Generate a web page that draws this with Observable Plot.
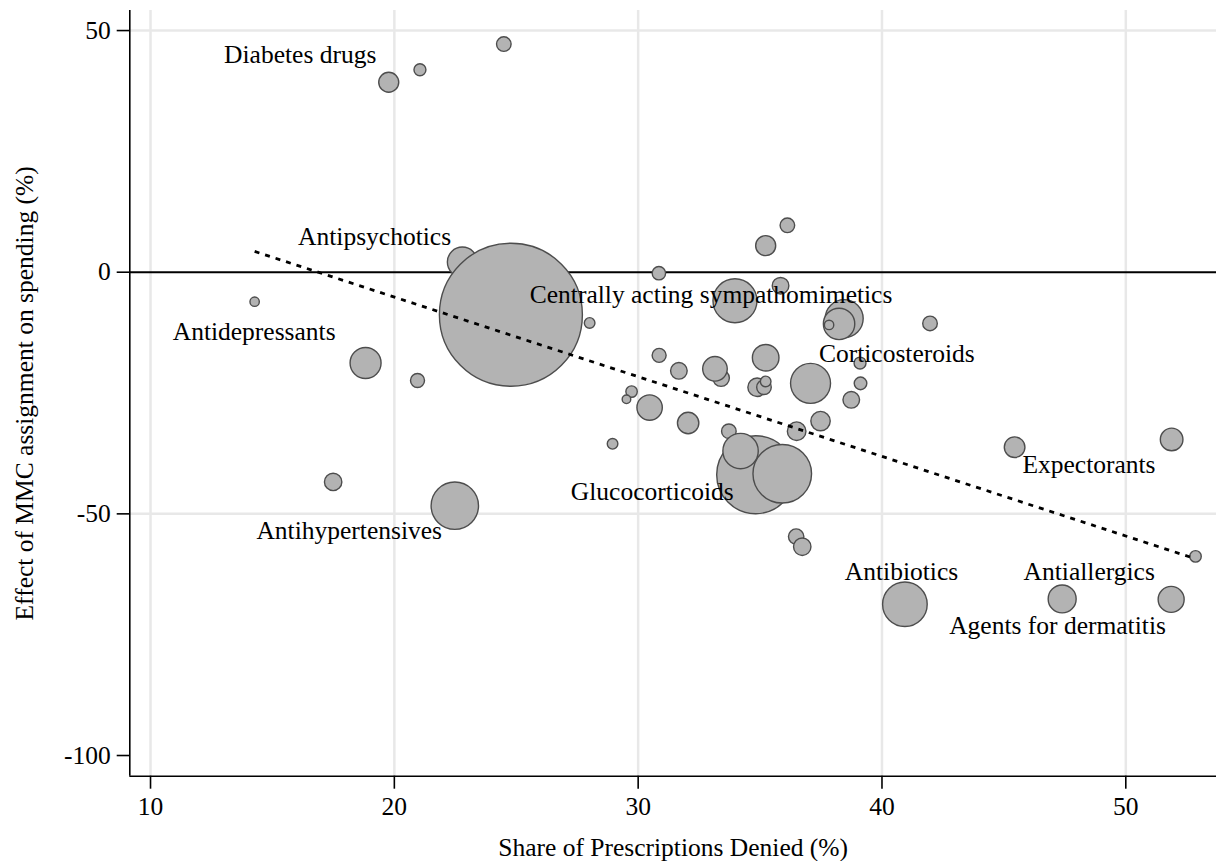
<!DOCTYPE html>
<html>
<head>
<meta charset="utf-8">
<script src="https://cdn.jsdelivr.net/npm/d3@7"></script>
<script src="https://cdn.jsdelivr.net/npm/@observablehq/plot@0.6"></script>
<style>
  html, body { margin: 0; padding: 0; background: #ffffff; }
  #chart svg { display: block; }
</style>
</head>
<body>
<div id="chart"></div>
<script>
// Share of prescriptions denied (%) per drug class
const shareDenied = [19.77, 21.05, 24.49, 36.12, 35.23, 30.85, 22.79, 24.78, 35.84, 33.97,
  14.27, 18.82, 20.95, 17.49, 22.48, 28.01, 30.86, 31.67, 33.40, 33.15,
  35.23, 34.88, 35.16, 35.23, 37.07, 29.73, 29.52, 30.47, 32.05, 28.95,
  33.72, 36.50, 37.48, 34.82, 34.20, 35.91, 36.48, 36.73, 38.45, 38.24,
  37.83, 41.97, 39.10, 39.12, 38.74, 45.44, 51.88, 52.86, 40.94, 47.39, 51.86];
// Effect of MMC assignment on spending (%)
const effect = [39.3, 41.9, 47.2, 9.7, 5.5, -0.2, 2.1, -8.8, -2.8, -5.9,
  -6.1, -18.8, -22.4, -43.4, -48.3, -10.5, -17.2, -20.4, -21.9, -20.0,
  -17.7, -23.8, -23.8, -22.6, -23.0, -24.7, -26.3, -28.0, -31.2, -35.5,
  -32.9, -32.9, -30.8, -41.9, -37.0, -41.7, -54.7, -56.8, -9.6, -10.7,
  -10.9, -10.6, -18.8, -23.0, -26.4, -36.2, -34.6, -58.8, -68.7, -67.6, -67.7];
// Bubble weight (relative spending weight)
const weight = [19.6, 7.0, 10.4, 10.4, 19.6, 8.8, 44.0, 1000, 13.5, 94.7,
  4.3, 47.0, 9.6, 14.8, 109.9, 5.5, 9.6, 13.5, 13.5, 29.6,
  34.6, 16.9, 10.4, 5.5, 78.2, 6.4, 3.6, 31.5, 22.4, 5.5,
  10.4, 16.9, 18.4, 297.5, 61.3, 167.9, 11.6, 14.8, 70.6, 48.2,
  4.3, 10.4, 7.0, 7.8, 13.5, 20.8, 25.0, 6.4, 97.3, 38.3, 33.1];

// Fitted line endpoints
const fitX = [14.27, 52.86];
const fitY = [4.3, -59.3];

// Labels
const labelText = ["Diabetes drugs", "Antipsychotics", "Antidepressants",
  "Centrally acting sympathomimetics", "Corticosteroids", "Glucocorticoids",
  "Antihypertensives", "Expectorants", "Antibiotics", "Antiallergics", "Agents for dermatitis"];
const labelX = [16.14, 19.19, 14.25, 32.99, 40.61, 30.58, 18.15, 48.49, 40.80, 48.50, 47.20];
const labelY = [44.96, 7.24, -12.27, -4.70, -16.90, -45.52, -53.45, -39.87, -61.90, -61.90, -73.10];

// Axes
const xTicks = [10, 20, 30, 40, 50];
const yTicks = [50, 0, -50, -100];
const yGrid = [50, -50];
const xDomain = [9.15, 53.72];
const yDomain = [-104.28, 54.15];
const xTitle = "Share of Prescriptions Denied (%)";
const yTitle = "Effect of MMC assignment on spending (%)";

const pts = shareDenied.map((x, i) => ({x, y: effect[i], w: weight[i]}));
const fit = fitX.map((x, i) => ({x, y: fitY[i]}));
const labels = labelText.map((t, i) => ({t, x: labelX[i], y: labelY[i]}));

const font = "'Liberation Serif', 'Times New Roman', Times, serif";
const fs = 25.5;

const chart = Plot.plot({
  width: 1219,
  height: 861,
  marginLeft: 129.3,
  marginRight: 3,
  marginTop: 10,
  marginBottom: 85.3,
  style: {fontFamily: font, fontSize: fs + "px", background: "#ffffff", color: "#000000", overflow: "visible"},
  x: {domain: xDomain},
  y: {domain: yDomain},
  r: {type: "sqrt", domain: [0, 1000], range: [0, 71.5]},
  marks: [
    Plot.gridX(xTicks, {stroke: "#e8e8e8", strokeOpacity: 1, strokeWidth: 2.5}),
    Plot.gridY(yGrid, {stroke: "#e8e8e8", strokeOpacity: 1, strokeWidth: 2.5}),
    Plot.ruleY([0], {stroke: "#000000", strokeWidth: 2}),
    Plot.dot(pts, {x: "x", y: "y", r: "w", fill: "#b3b3b3", fillOpacity: 1, stroke: "#4d4d4d", strokeWidth: 1.4, sort: null}),
    Plot.line(fit, {x: "x", y: "y", stroke: "#000000", strokeWidth: 2.8, strokeDasharray: "5,6", strokeLinecap: "butt"}),
    Plot.text(labels, {x: "x", y: "y", text: "t", fontSize: fs, fontFamily: font, fill: "#000000", textAnchor: "middle", lineAnchor: "middle"}),
    Plot.ruleX([xDomain[0]], {stroke: "#000000", strokeWidth: 1.6}),
    Plot.ruleY([yDomain[0]], {stroke: "#000000", strokeWidth: 1.6}),
    Plot.axisX(xTicks, {tickSize: 13, tickPadding: 8, strokeWidth: 1.6, fontSize: fs, tickFormat: d => String(d),
      label: xTitle, labelAnchor: "center", labelOffset: 80, labelArrow: "none"}),
    Plot.axisY(yTicks, {tickSize: 12.6, tickPadding: 6.5, strokeWidth: 1.6, fontSize: fs, tickFormat: d => String(d),
      label: yTitle, labelAnchor: "center", labelOffset: 115, labelArrow: "none"})
  ]
});
document.getElementById("chart").appendChild(chart);
</script>
</body>
</html>
